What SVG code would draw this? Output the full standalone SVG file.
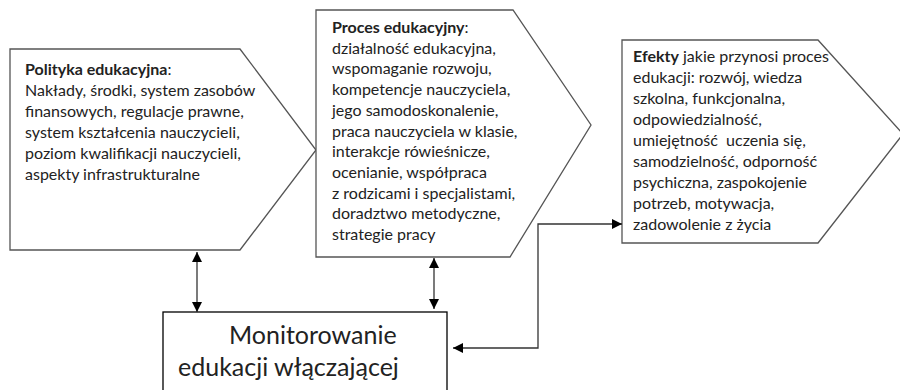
<svg xmlns="http://www.w3.org/2000/svg" width="900" height="390" viewBox="0 0 900 390">
<defs>
<style>
.shape{fill:#fff;stroke:#555;stroke-width:1.3}
.box{fill:#fff;stroke:#000;stroke-width:1.3}
.t{font-family:Lato,"Liberation Sans",sans-serif;font-size:16px;fill:#222}
.b{font-weight:bold}
.m{font-family:Lato,"Liberation Sans",sans-serif;font-size:25px;fill:#222}
.c{fill:none;stroke:#333;stroke-width:1.3}
</style>
<marker id="ah" viewBox="0 0 10 10" refX="10" refY="5" markerWidth="10" markerHeight="10" markerUnits="userSpaceOnUse" orient="auto-start-reverse">
<path d="M0,0 L10,5 L0,10 z" fill="#000"/>
</marker>
</defs>
<rect width="900" height="390" fill="#fff"/>
<g id="polityka">
<polygon class="shape" points="10,49 240,49 316,150 240,250 10,250"/>
<text class="t" x="25" y="75"><tspan class="b">Polityka edukacyjna</tspan>:</text>
<text class="t" x="25" y="96">Nakłady, środki, system zasobów</text>
<text class="t" x="25" y="117">finansowych, regulacje prawne,</text>
<text class="t" x="25" y="138">system kształcenia nauczycieli,</text>
<text class="t" x="25" y="159">poziom kwalifikacji nauczycieli,</text>
<text class="t" x="25" y="180">aspekty infrastrukturalne</text>
</g>
<g id="proces">
<polygon class="shape" points="316,10 513,10 591,125 510,257 316,257"/>
<text class="t" x="332" y="33"><tspan class="b">Proces edukacyjny</tspan>:</text>
<text class="t" x="332" y="53.7">działalność edukacyjna,</text>
<text class="t" x="332" y="74.4">wspomaganie rozwoju,</text>
<text class="t" x="332" y="95.1">kompetencje nauczyciela,</text>
<text class="t" x="332" y="115.8">jego samodoskonalenie,</text>
<text class="t" x="332" y="136.5">praca nauczyciela w klasie,</text>
<text class="t" x="332" y="157.2">interakcje rówieśnicze,</text>
<text class="t" x="332" y="177.9">ocenianie, współpraca</text>
<text class="t" x="332" y="198.6">z rodzicami i specjalistami,</text>
<text class="t" x="332" y="219.3">doradztwo metodyczne,</text>
<text class="t" x="332" y="240">strategie pracy</text>
</g>
<g id="efekty">
<polygon class="shape" points="622,40 818,40 903,134 818,243 622,243"/>
<text class="t" x="633" y="62"><tspan class="b">Efekty</tspan> jakie przynosi proces</text>
<text class="t" x="633" y="83">edukacji: rozwój, wiedza</text>
<text class="t" x="633" y="104">szkolna, funkcjonalna,</text>
<text class="t" x="633" y="125">odpowiedzialność,</text>
<text class="t" x="633" y="146" xml:space="preserve">umiejętność  uczenia się,</text>
<text class="t" x="633" y="167">samodzielność, odporność</text>
<text class="t" x="633" y="188">psychiczna, zaspokojenie</text>
<text class="t" x="633" y="209">potrzeb, motywacja,</text>
<text class="t" x="633" y="230">zadowolenie z życia</text>
</g>
<g id="monitorowanie">
<rect class="box" x="163" y="312" width="284" height="100"/>
<text class="m" x="229" y="344">Monitorowanie</text>
<text class="m" x="178" y="376">edukacji włączającej</text>
</g>
<g id="connectors">
<line class="c" x1="197" y1="252" x2="197" y2="312" marker-start="url(#ah)" marker-end="url(#ah)"/>
<line class="c" x1="434" y1="258" x2="434" y2="309" marker-start="url(#ah)" marker-end="url(#ah)"/>
<polyline class="c" points="453,348 538,348 538,224 622,224" marker-start="url(#ah)" marker-end="url(#ah)"/>
</g>
</svg>
